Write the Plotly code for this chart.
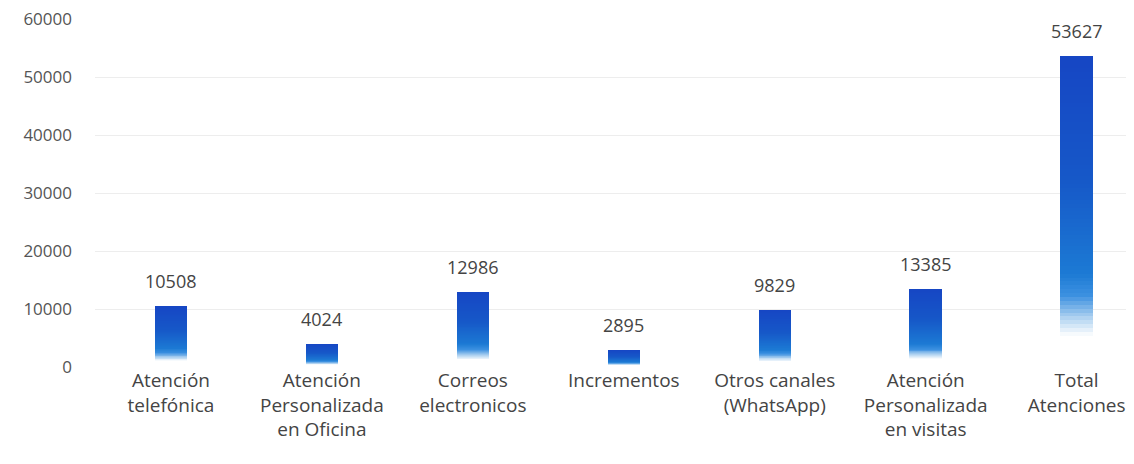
import plotly.graph_objects as go

categories = [
    "Atención<br>telefónica",
    "Atención<br>Personalizada<br>en Oficina",
    "Correos<br>electronicos",
    "Incrementos",
    "Otros canales<br>(WhatsApp)",
    "Atención<br>Personalizada<br>en visitas",
    "Total<br>Atenciones",
]
values = [10508, 4024, 12986, 2895, 9829, 13385, 53627]
y_ticks = [0, 10000, 20000, 30000, 40000, 50000, 60000]

# gradient stops (fraction from bar top -> colour)
stops = [
    (0.00, (22, 70, 196)),
    (0.40, (22, 88, 200)),
    (0.70, (28, 122, 212)),
    (0.77, (60, 144, 224)),
    (0.84, (172, 208, 240)),
    (0.90, (255, 255, 255)),
    (1.00, (255, 255, 255)),
]


def colour_at(t):
    for (t0, c0), (t1, c1) in zip(stops[:-1], stops[1:]):
        if t0 <= t <= t1:
            f = 0 if t1 == t0 else (t - t0) / (t1 - t0)
            c = [round(a + (b - a) * f) for a, b in zip(c0, c1)]
            return "rgb({},{},{})".format(*c)
    return "rgb(255,255,255)"


N = 80
fig = go.Figure()
# overlapping bars from 0, each shorter one painted on top -> smooth gradient
for k in range(N):
    frac = 1 - k / N
    t = (k + 0.5) / N
    fig.add_trace(go.Bar(
        x=categories,
        y=[v * frac for v in values],
        marker=dict(color=colour_at(t), line=dict(width=0)),
        width=0.215,
        hoverinfo="skip",
        showlegend=False,
    ))

for c, v in zip(categories, values):
    fig.add_annotation(
        x=c, y=v, text=str(v), showarrow=False,
        yanchor="bottom", yshift=11,
        font=dict(family="Open Sans", size=18, color="#444444"),
    )

# the page body adds an 8px offset, so the figure is 8px smaller each way
fig.update_layout(
    barmode="overlay",
    bargap=0,
    width=1126,
    height=456,
    margin=dict(l=87, r=0, t=11, b=97),
    paper_bgcolor="white",
    plot_bgcolor="white",
    font=dict(family="Open Sans", size=18, color="#444444"),
    xaxis=dict(
        range=[-0.503, 6.38],
        showgrid=False,
        showline=False,
        ticks="",
        automargin=False,
        tickfont=dict(family="Open Sans", size=19, color="#444444"),
    ),
    yaxis=dict(
        range=[0, 60000],
        tickvals=y_ticks,
        ticktext=[str(t) for t in y_ticks],
        showgrid=True,
        gridcolor="#ededed",
        gridwidth=1,
        zeroline=False,
        showline=False,
        automargin=False,
        ticklabeloverflow="allow",
        ticklabelstandoff=22,
        tickfont=dict(family="Open Sans", size=17, color="#555555"),
    ),
)

fig.write_html("out.html")
